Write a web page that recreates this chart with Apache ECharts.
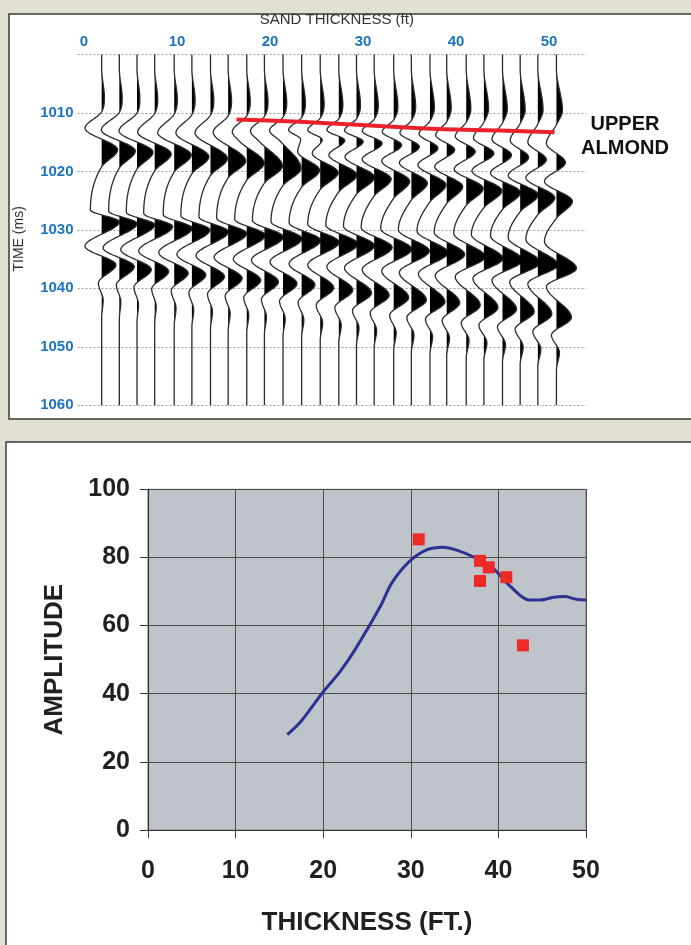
<!DOCTYPE html>
<html>
<head>
<meta charset="utf-8">
<script src="https://cdn.jsdelivr.net/npm/echarts@6/dist/echarts.min.js"></script>
<style>
  html, body { margin: 0; padding: 0; background: #e2dfd3; }
  #chart { width: 691px; height: 945px; }
</style>
</head>
<body>
<div id="chart"></div>
<script>
// ---------- Seismic wedge section (upper panel) ----------
// Trace positions along the sand-thickness axis (ft)
const traceThickness = [1.9, 3.8, 5.7, 7.6, 9.7, 11.6, 13.6, 15.5, 17.5, 19.4, 21.4, 23.4, 25.4,
  27.4, 29.3, 31.2, 33.3, 35.2, 37.2, 39.0, 41.1, 43.0, 45.0, 46.9, 48.8, 50.8];

// Wiggle events per trace: two-way time (ms) and amplitude (display units)
const sliverTime = [1007.3, 1007.4, 1007.5, 1007.6, 1007.7, 1007.8, 1007.9, 1008.0, 1008.1, 1008.2, 1008.3, 1008.4, 1008.5,
  1008.6, 1008.7, 1008.8, 1008.9, 1009.0, 1009.1, 1009.2, 1009.3, 1009.3, 1009.4, 1009.5, 1009.5, 1009.6];
const sliverAmp = [2.7, 2.8, 2.8, 3.0, 3.1, 3.2, 3.3, 3.4, 3.5, 3.6, 3.7, 3.8, 3.9,
  4.0, 4.0, 4.1, 4.2, 4.3, 4.4, 4.5, 4.6, 4.7, 4.8, 5.0, 5.2, 6.0];
const settleTime = [1009.8, 1009.9, 1010.0, 1010.1, 1010.2, 1010.3, 1010.4, 1010.5, 1010.5, 1010.6, 1010.7, 1010.8, 1010.9,
  1011.0, 1011.0, 1011.1, 1011.2, 1011.3, 1011.4, 1011.5, 1011.6, 1011.6, 1011.7, 1011.8, 1011.9, 1012.0];

const troughBTime = [1012.6, 1012.9, 1013.1, 1013.3, 1013.4, 1013.4, 1013.4, 1013.3, 1013.2, 1013.1, 1013.0, 1012.9, 1012.9,
  1012.9, 1013.0, 1013.1, 1013.2, 1013.4, 1013.6, 1013.8, 1014.0, 1014.3, 1014.5, 1014.7, 1015.0, 1015.2];
const troughBAmp = [-16.7, -18, -18, -17, -16.5, -16, -15.5, -15, -14.5, -14, -13.5, -13, -12.5,
  -12, -12, -12, -11.5, -11.5, -11, -11, -11, -10.5, -10.5, -10, -10, -10];

const topPeakTime = [null, null, null, null, null, null, null, null, 1014.9, 1014.9, 1014.8, 1014.5, 1014.6,
  1014.7, 1014.9, 1015.2, 1015.5, 1015.8, 1016.0, 1016.3, 1016.6, 1016.9, 1017.2, 1017.6, 1018.0, 1018.5];
const topPeakAmp = [null, null, null, null, null, null, null, null, -7, -5, -3, -1, 2,
  6, 6.7, 8, 8, 8, 8, 8, 9, 10, 9, 8.5, 8.5, 9];
const topTroughTime = [null, null, null, null, null, null, null, null, null, null, null, 1016.6, 1016.9,
  1017.2, 1017.5, 1017.9, 1018.2, 1018.5, 1018.9, 1019.2, 1019.6, 1019.9, 1020.3, 1020.7, 1021.1, 1021.7];
const topTroughAmp = [null, null, null, null, null, null, null, null, null, null, null, -4, -8,
  -10, -11.5, -12, -12, -12, -12, -12, -12, -12, -12, -12, -12, -12];

const band1Time = [1016.3, 1016.5, 1016.7, 1017.0, 1017.2, 1017.5, 1017.8, 1018.2, 1018.6, 1019.1, 1019.5, 1019.8, 1020.2,
  1020.6, 1021.0, 1021.3, 1021.7, 1022.0, 1022.3, 1022.6, 1022.9, 1023.3, 1023.6, 1024.0, 1024.5, 1025.1];
const band1Amp = [16, 16, 16, 16.5, 17, 17, 17, 17.5, 17.5, 18, 18, 18, 18,
  18, 18, 17, 16, 16, 16, 16, 17, 18, 18, 18, 17, 16];
const band1EndTime = [1019.2, 1019.4, 1019.6, 1019.9, 1020.1, 1020.4, 1020.7, 1021.1, 1021.5, 1022.0, 1022.4, 1022.7, 1023.1,
  1023.5, 1023.9, 1024.2, 1024.6, 1024.9, 1025.2, 1025.5, 1025.8, 1026.2, 1026.5, 1026.9, 1027.4, 1028.0];

const trough2Time = [1026.6, 1026.8, 1027.0, 1027.2, 1027.4, 1027.6, 1027.8, 1028.0, 1028.2, 1028.4, 1028.6, 1028.8, 1029.0,
  1029.2, 1029.4, 1029.6, 1029.8, 1030.0, 1030.2, 1030.4, 1030.6, 1030.8, 1031.0, 1031.3, 1031.6, 1032.0];
const trough2Amp = [-11.3, -10.7, -10.7, -11, -11, -11, -11.5, -11.5, -12, -12, -12, -12.5, -12.5,
  -13, -13, -13, -13, -13, -13, -12.5, -12.5, -12.5, -12, -12, -12, -12];

const band2Time = [1028.6, 1028.9, 1029.1, 1029.4, 1029.7, 1030.0, 1030.3, 1030.6, 1030.9, 1031.2, 1031.5, 1031.8, 1032.1,
  1032.4, 1032.7, 1033.0, 1033.3, 1033.6, 1033.9, 1034.2, 1034.6, 1034.9, 1035.2, 1035.6, 1036.0, 1036.6];
const band2Amp = [17.7, 17.7, 17.7, 18, 18, 18, 18, 18.5, 18.5, 19, 19, 19, 19,
  19, 18, 18, 18, 18, 18, 18, 19, 19, 20, 20, 20, 20];

const trough3Time = [1032.8, 1033.1, 1033.4, 1033.6, 1033.9, 1034.2, 1034.4, 1034.7, 1035.0, 1035.2, 1035.5, 1035.8, 1036.0,
  1036.3, 1036.5, 1036.8, 1037.0, 1037.3, 1037.5, 1037.8, 1038.0, 1038.3, 1038.6, 1038.9, 1039.2, 1039.7];
const trough3Amp = [-16.7, -16.3, -16.3, -16, -15.5, -15, -14.5, -14, -13.5, -13, -13, -12.5, -12.5,
  -12, -12, -12, -12, -12, -11.5, -11.5, -11, -11, -10.5, -10.5, -10, -10];

const band3Time = [1036.0, 1036.3, 1036.8, 1037.1, 1037.4, 1037.7, 1038.0, 1038.3, 1038.6, 1038.9, 1039.2, 1039.4, 1039.9,
  1040.3, 1040.8, 1041.2, 1041.6, 1042.0, 1042.3, 1042.5, 1042.9, 1043.3, 1043.6, 1044.0, 1044.4, 1045.0];
const band3Amp = [14.3, 15, 14.3, 14, 14, 14, 14, 14, 14, 14, 14, 13.3, 13.5,
  14, 15, 15, 15, 15, 15, 13, 14, 14, 14, 14, 14, 15];

const tailDipTime = [1039.1, 1039.4, 1039.8, 1040.1, 1040.4, 1040.7, 1041.0, 1041.3, 1041.6, 1041.9, 1042.2, 1042.4, 1042.9,
  1043.3, 1043.8, 1044.2, 1044.6, 1045.0, 1045.3, 1045.5, 1045.9, 1046.3, 1046.6, 1047.0, 1047.4, 1048.0];
const tailDipAmp = [-3.3, -3, -3, -3, -3, -3, -3, -3, -3, -3, -3.5, -3.5, -4,
  -4, -4, -4, -4, -4.5, -4.5, -4.5, -5, -5, -5, -5, -5, -5];
const tailBumpTime = [1042.0, 1042.3, 1042.8, 1043.1, 1043.4, 1043.7, 1044.0, 1044.3, 1044.6, 1044.9, 1045.2, 1045.4, 1045.9,
  1046.3, 1046.8, 1047.2, 1047.6, 1048.0, 1048.3, 1048.5, 1048.9, 1049.3, 1049.6, 1050.0, 1050.4, 1051.0];
const tailBumpAmp = [1.5, 1.5, 1.5, 1.5, 1.8, 1.8, 2, 2, 2, 2, 2.2, 2.2, 2.4,
  2.4, 2.5, 2.5, 2.5, 2.6, 2.6, 2.8, 2.8, 3, 3, 3, 3, 3];
const tailEndTime = [1045.0, 1045.3, 1045.8, 1046.1, 1046.4, 1046.7, 1047.0, 1047.3, 1047.6, 1047.9, 1048.2, 1048.4, 1048.9,
  1049.3, 1049.8, 1050.2, 1050.6, 1051.0, 1051.3, 1051.5, 1051.9, 1052.3, 1052.6, 1053.0, 1053.4, 1054.0];

// Upper Almond horizon pick
const horizonThickness = [16.4, 23.2, 36.1, 44.7, 50.6];
const horizonTime = [1011.1, 1011.5, 1012.6, 1013.0, 1013.3];

// Time axis ticks
const timeTicks = [1010, 1020, 1030, 1040, 1050, 1060];

// ---------- Amplitude vs thickness (lower panel) ----------
const tuningThickness = [15.9, 17.4, 19.9, 21.9, 23.6, 26.5, 27.8, 29.7, 31.8, 33.7, 35.4, 37.1, 39.2,
  41.4, 43.5, 44.8, 46.3, 47.6, 48.9, 50.0];
const tuningAmplitude = [28.0, 31.7, 40.2, 46.4, 52.8, 65.5, 72.4, 78.5, 82.2, 83.0, 82.0, 80.2, 77.3,
  71.4, 67.5, 67.5, 68.3, 68.5, 67.7, 67.5];
const wellThickness = [30.9, 37.9, 38.9, 37.9, 40.9, 42.8];
const wellAmplitude = [85.3, 79.0, 77.1, 73.1, 74.2, 54.2];

// display gain: amplitude units -> ft on the trace axis
const GAIN = 1 / 9.3;
const BLUE = '#1c74bf';

// monotone cubic (Fritsch-Carlson) through pixel knots, x as a function of y
function monotoneSample(pts) {
  const n = pts.length;
  const xs = pts.map(p => p[0]), ys = pts.map(p => p[1]);
  const d = [], m = new Array(n);
  for (let k = 0; k < n - 1; k++) d.push((xs[k + 1] - xs[k]) / (ys[k + 1] - ys[k]));
  m[0] = d[0]; m[n - 1] = d[n - 2];
  for (let k = 1; k < n - 1; k++) m[k] = d[k - 1] * d[k] <= 0 ? 0 : (d[k - 1] + d[k]) / 2;
  for (let k = 0; k < n - 1; k++) {
    if (d[k] === 0) { m[k] = 0; m[k + 1] = 0; continue; }
    const a = m[k] / d[k], b = m[k + 1] / d[k], s = a * a + b * b;
    if (s > 9) { const t = 3 / Math.sqrt(s); m[k] = t * a * d[k]; m[k + 1] = t * b * d[k]; }
  }
  const out = [];
  for (let k = 0; k < n - 1; k++) {
    const h = ys[k + 1] - ys[k];
    const steps = Math.max(2, Math.ceil(h / 1.2));
    for (let j = 0; j < steps; j++) {
      const s = j / steps, s2 = s * s, s3 = s2 * s;
      const x = (2 * s3 - 3 * s2 + 1) * xs[k] + (s3 - 2 * s2 + s) * h * m[k] +
        (-2 * s3 + 3 * s2) * xs[k + 1] + (s3 - s2) * h * m[k + 1];
      out.push([x, ys[k] + s * h]);
    }
  }
  out.push([xs[n - 1], ys[n - 1]]);
  return out;
}

function renderTrace(params, api) {
  const i = api.value(2);
  const base = traceThickness[i];
  const knots = [];
  const add = (t, a) => { if (t != null && a != null) knots.push([t, a]); };
  add(1000, 0);
  add(1002.5, 0);
  add(sliverTime[i], sliverAmp[i]);
  add(settleTime[i], 0);
  add(troughBTime[i], troughBAmp[i]);
  add(topPeakTime[i], topPeakAmp[i]);
  add(topTroughTime[i], topTroughAmp[i]);
  add(band1Time[i], band1Amp[i]);
  add(band1EndTime[i], 0);
  add(trough2Time[i], trough2Amp[i]);
  add(band2Time[i], band2Amp[i]);
  add(trough3Time[i], trough3Amp[i]);
  add(band3Time[i], band3Amp[i]);
  add(tailDipTime[i], tailDipAmp[i]);
  add(tailBumpTime[i], tailBumpAmp[i]);
  add(tailEndTime[i], 0);
  add(1060, 0);
  knots.sort((a, b) => a[0] - b[0]);
  const pts = knots.map(k => api.coord([base + k[1] * GAIN, k[0]]));
  const basePx = api.coord([base, 1000])[0];
  const curve = monotoneSample(pts);
  const fill = [[basePx, curve[0][1]]]
    .concat(curve.map(p => [Math.max(p[0], basePx), p[1]]))
    .concat([[basePx, curve[curve.length - 1][1]]]);
  return {
    type: 'group',
    children: [
      { type: 'polygon', shape: { points: fill }, style: { fill: '#000', stroke: null } },
      { type: 'polyline', shape: { points: curve }, style: { fill: null, stroke: '#2b2b2b', lineWidth: 1.3 } }
    ]
  };
}

const chart = echarts.init(document.getElementById('chart'), null, { renderer: 'canvas' });
const boldFont = { fontFamily: 'Liberation Sans', fontWeight: 'bold' };

chart.setOption({
  animation: false,
  backgroundColor: '#e2dfd3',
  textStyle: { fontFamily: 'Liberation Sans' },
  graphic: {
    elements: [
      { type: 'rect', z: -10, shape: { x: 9, y: 14, width: 700, height: 405 },
        style: { fill: '#ffffff', stroke: '#3a3a3a', lineWidth: 1.5 } },
      { type: 'rect', z: -10, shape: { x: 6, y: 442, width: 700, height: 520 },
        style: { fill: '#ffffff', stroke: '#3a3a3a', lineWidth: 1.5 } },
      { type: 'text', x: 625, y: 124, z: 10,
        style: { text: 'UPPER', fill: '#111', font: 'bold 20px "Liberation Sans"', align: 'center', verticalAlign: 'middle' } },
      { type: 'text', x: 625, y: 148, z: 10,
        style: { text: 'ALMOND', fill: '#111', font: 'bold 20px "Liberation Sans"', align: 'center', verticalAlign: 'middle' } }
    ]
  },
  grid: [
    { left: 77.5, right: 104.8, top: 54.5, height: 350.7 },
    { left: 148, width: 438, top: 489.3, height: 340.7, show: true,
      backgroundColor: '#bfc4cb', borderColor: '#808080', borderWidth: 1 }
  ],
  xAxis: [
    {
      gridIndex: 0, type: 'value', position: 'top', min: -0.7, max: 54,
      axisLine: { show: false }, axisTick: { show: false }, splitLine: { show: false },
      axisLabel: { color: BLUE, fontSize: 15, margin: 5, ...boldFont,
        formatter: v => (v >= 0 && v % 10 === 0 ? String(v) : '') },
      name: 'SAND THICKNESS (ft)', nameLocation: 'middle', nameGap: 27,
      nameTextStyle: { color: '#333', fontSize: 15, padding: [0, 0, 0, 10] }
    },
    {
      gridIndex: 1, type: 'value', min: 0, max: 50, interval: 10,
      axisLine: { lineStyle: { color: '#333', width: 1.2 } },
      axisTick: { show: true, length: 8, lineStyle: { color: '#333' } },
      axisLabel: { color: '#231f20', fontSize: 25, margin: 29, ...boldFont },
      splitLine: { show: true, lineStyle: { color: '#4d4d4d', width: 1 } },
      name: 'THICKNESS (FT.)', nameLocation: 'middle', nameGap: 80,
      nameTextStyle: { color: '#231f20', fontSize: 26, ...boldFont }
    }
  ],
  yAxis: [
    {
      gridIndex: 0, type: 'value', inverse: true, min: 1000, max: 1060, interval: 10,
      axisLine: { show: false }, axisTick: { show: false },
      splitLine: { show: true, lineStyle: { color: '#9a9a9a', type: [2, 2], width: 1 } },
      axisLabel: { color: BLUE, fontSize: 15, margin: 4, ...boldFont,
        formatter: v => (timeTicks.indexOf(v) >= 0 ? String(v) : '') },
      name: 'TIME (ms)', nameLocation: 'middle', nameGap: 51, nameRotate: 90,
      nameTextStyle: { color: '#333', fontSize: 14, padding: [0, 18, 0, 0] }
    },
    {
      gridIndex: 1, type: 'value', min: 0, max: 100, interval: 20,
      axisLine: { show: true, lineStyle: { color: '#333', width: 1.2 } },
      axisTick: { show: true, length: 8, lineStyle: { color: '#333' } },
      axisLabel: { color: '#231f20', fontSize: 25, margin: 18, ...boldFont },
      splitLine: { show: true, lineStyle: { color: '#4d4d4d', width: 1 } },
      name: 'AMPLITUDE', nameLocation: 'middle', nameGap: 80, nameRotate: 90,
      nameTextStyle: { color: '#231f20', fontSize: 26, ...boldFont }
    }
  ],
  series: [
    {
      type: 'custom', name: 'traces', xAxisIndex: 0, yAxisIndex: 0, silent: true, z: 3,
      renderItem: renderTrace,
      encode: { x: 0, y: 1 },
      data: traceThickness.map((x, i) => [x, 1030, i])
    },
    {
      type: 'line', name: 'Upper Almond', xAxisIndex: 0, yAxisIndex: 0, z: 5,
      data: horizonThickness.map((x, i) => [x, horizonTime[i]]),
      smooth: true, symbol: 'none', lineStyle: { color: '#e8212b', width: 4 }
    },
    {
      type: 'line', name: 'model', xAxisIndex: 1, yAxisIndex: 1, z: 5,
      data: tuningThickness.map((x, i) => [x, tuningAmplitude[i]]),
      smooth: 0.3, symbol: 'none', lineStyle: { color: '#2e3192', width: 3 }
    },
    {
      type: 'scatter', name: 'wells', xAxisIndex: 1, yAxisIndex: 1, z: 6,
      data: wellThickness.map((x, i) => [x, wellAmplitude[i]]),
      symbol: 'rect', symbolSize: 12, itemStyle: { color: '#ec2b27', opacity: 1 }
    }
  ]
});
</script>
</body>
</html>
